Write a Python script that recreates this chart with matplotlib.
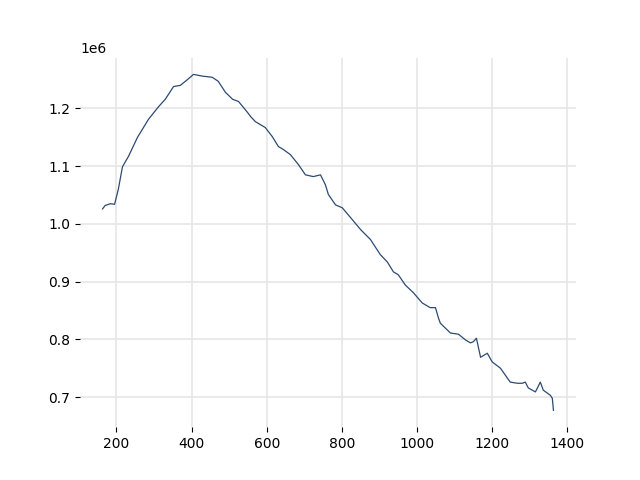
import matplotlib.pyplot as plt

# x positions and values
x_vals = [163, 170, 184, 195, 205, 216, 232, 256, 285, 312, 330, 352, 370, 389,
          405, 429, 455, 471, 490, 509, 525, 549, 557, 570, 583, 596, 615, 631,
          644, 663, 684, 703, 724, 743, 756, 764, 783, 801, 823, 850, 876, 902,
          921, 937, 950, 969, 990, 1014, 1035, 1049, 1057, 1062, 1089, 1110, 1129,
          1142, 1150, 1158, 1169, 1187, 1200, 1222, 1248, 1267, 1280, 1288, 1296,
          1315, 1328, 1336, 1355, 1360, 1363]
y_vals = [1.026, 1.032, 1.035, 1.034, 1.060, 1.099, 1.117, 1.150, 1.181, 1.203,
          1.216, 1.238, 1.240, 1.250, 1.259, 1.256, 1.254, 1.247, 1.228, 1.216,
          1.212, 1.193, 1.186, 1.177, 1.172, 1.167, 1.151, 1.134, 1.129, 1.120,
          1.103, 1.085, 1.082, 1.085, 1.068, 1.051, 1.033, 1.028, 1.011, 0.990,
          0.973, 0.947, 0.934, 0.917, 0.912, 0.894, 0.881, 0.863, 0.855, 0.855,
          0.837, 0.828, 0.811, 0.809, 0.799, 0.794, 0.796, 0.802, 0.769, 0.776,
          0.761, 0.750, 0.726, 0.724, 0.724, 0.726, 0.716, 0.709, 0.726, 0.712,
          0.703, 0.698, 0.677]
y_vals = [v * 1e6 for v in y_vals]

fig, ax = plt.subplots(figsize=(6.4, 4.8), dpi=100)
ax.plot(x_vals, y_vals, color="#2c4a72", linewidth=0.9)

ax.grid(True, color="#e6e6e6", linewidth=1.2)
ax.set_axisbelow(True)
for s in ax.spines.values():
    s.set_visible(False)

fig.savefig("out.png")
